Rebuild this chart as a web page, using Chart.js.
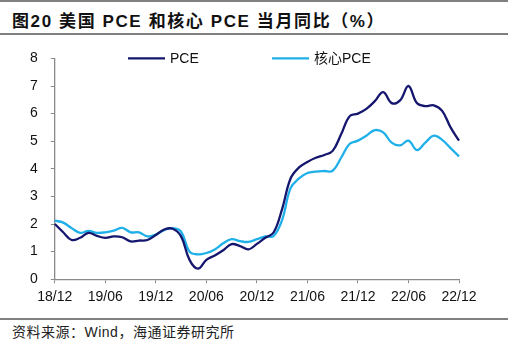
<!DOCTYPE html>
<html>
<head>
<meta charset="utf-8">
<script src="https://cdn.jsdelivr.net/npm/chart.js@4.4.1/dist/chart.umd.min.js"></script>
<style>
  body { margin: 0; background: #fff; width: 525px; height: 346px; position: relative; overflow: hidden;
         font-family: "Liberation Sans", Arial, "Noto Sans CJK SC", sans-serif; }
  .rule { position: absolute; left: 0; width: 508px; background: #808080; }
  #title { position: absolute; left: 12px; top: 7px; font-size: 17px; font-weight: bold; color: #111; white-space: nowrap; letter-spacing: 1.6px; }
  #source { position: absolute; left: 12px; top: 321px; font-size: 14px; color: #222; white-space: nowrap; letter-spacing: 0.5px; }
  #wrap { position: absolute; left: 0; top: 37px; width: 525px; height: 279px; }
</style>
</head>
<body>
<div class="rule" style="top:0px;height:2px"></div>
<div id="title">图20 美国 PCE 和核心 PCE 当月同比（%）</div>
<div class="rule" style="top:33px;height:2px"></div>
<div id="wrap"><canvas id="line_chart"></canvas></div>
<div class="rule" style="top:318px;height:1.5px"></div>
<div id="source">资料来源：Wind，海通证券研究所</div>

<script>
var months = ["18/12",
    "19/01", "19/02", "19/03", "19/04", "19/05", "19/06", "19/07", "19/08", "19/09", "19/10", "19/11", "19/12",
    "20/01", "20/02", "20/03", "20/04", "20/05", "20/06", "20/07", "20/08", "20/09", "20/10", "20/11", "20/12",
    "21/01", "21/02", "21/03", "21/04", "21/05", "21/06", "21/07", "21/08", "21/09", "21/10", "21/11", "21/12",
    "22/01", "22/02", "22/03", "22/04", "22/05", "22/06", "22/07", "22/08", "22/09", "22/10", "22/11", "22/12"];

var pce = [2.0,
    1.7, 1.42, 1.5, 1.68, 1.57, 1.5, 1.55, 1.52, 1.37, 1.4, 1.42, 1.6,
    1.8, 1.83, 1.55, 0.7, 0.38, 0.7, 0.86, 1.05, 1.27, 1.2, 1.08, 1.28,
    1.5, 1.7, 2.55, 3.65, 4.05, 4.25, 4.4, 4.5, 4.65, 5.25, 5.9, 6.0,
    6.17, 6.45, 6.78, 6.38, 6.48, 7.0, 6.38, 6.27, 6.3, 6.1, 5.5, 5.02];

var corePce = [2.12,
    2.05, 1.85, 1.68, 1.75, 1.68, 1.7, 1.76, 1.86, 1.7, 1.7, 1.55, 1.62,
    1.78, 1.85, 1.72, 1.0, 0.9, 0.95, 1.08, 1.3, 1.45, 1.38, 1.35, 1.45,
    1.55, 1.57, 2.15, 3.3, 3.65, 3.85, 3.9, 3.92, 3.93, 4.4, 4.9, 5.02,
    5.2, 5.4, 5.32, 4.95, 4.85, 5.02, 4.68, 4.95, 5.2, 5.05, 4.75, 4.45];

var yTicks = [0, 1, 2, 3, 4, 5, 6, 7, 8];

var seriesNames = ["PCE", "核心PCE"];
var seriesColors = ['#15166e', '#1fb0e9'];

var axisColor = '#8a8a8a';
var fontFamily = '"Liberation Sans", Arial, "Noto Sans CJK SC", sans-serif';

// legend drawn by hand so it sits inside the plot, level with the top tick
var insideLegend = {
    id: 'insideLegend',
    afterDraw: function (chart, args, opts) {
        var ctx = chart.ctx;
        var y = chart.chartArea.top;
        ctx.save();
        ctx.font = '14px ' + fontFamily;
        ctx.textBaseline = 'middle';
        chart.data.datasets.forEach(function (ds, i) {
            var x = opts.starts[i];
            ctx.strokeStyle = ds.borderColor;
            ctx.lineWidth = 2.2;
            ctx.beginPath();
            ctx.moveTo(x, y);
            ctx.lineTo(x + opts.lineLength, y);
            ctx.stroke();
            ctx.fillStyle = '#111';
            ctx.fillText(ds.label, x + opts.lineLength + 5, y + 1);
        });
        ctx.restore();
    }
};

new Chart(document.getElementById("line_chart").getContext("2d"), {
    type: 'line',
    data: {
        labels: months,
        datasets: [{
            label: seriesNames[0],
            data: pce,
            borderColor: seriesColors[0],
            backgroundColor: seriesColors[0],
            borderWidth: 2.3,
            pointRadius: 0,
            tension: 0.4
        }, {
            label: seriesNames[1],
            data: corePce,
            borderColor: seriesColors[1],
            backgroundColor: seriesColors[1],
            borderWidth: 2.3,
            pointRadius: 0,
            tension: 0.4
        }]
    },
    options: {
        responsive: true,
        maintainAspectRatio: false,
        animation: false,
        layout: { padding: { left: 17, right: 66, top: 11, bottom: 4 } },
        plugins: {
            legend: { display: false },
            tooltip: { enabled: false },
            insideLegend: { starts: [128, 272], lineLength: 37 }
        },
        scales: {
            x: {
                offset: false,
                border: { color: axisColor, width: 1.3 },
                grid: {
                    drawOnChartArea: false,
                    tickLength: 4,
                    color: function (c) { return c.index % 6 === 0 ? axisColor : 'rgba(0,0,0,0)'; }
                },
                ticks: {
                    autoSkip: false,
                    maxRotation: 0,
                    padding: 6,
                    color: '#111',
                    font: { family: fontFamily, size: 14 },
                    callback: function (v, i) { return i % 6 === 0 ? months[i] : ''; }
                }
            },
            y: {
                min: yTicks[0],
                max: yTicks[yTicks.length - 1],
                border: { color: axisColor, width: 1.3 },
                grid: { drawOnChartArea: false, tickLength: 4, color: axisColor },
                ticks: {
                    stepSize: 1,
                    padding: 13,
                    color: '#111',
                    font: { family: fontFamily, size: 14 }
                }
            }
        }
    },
    plugins: [insideLegend]
});
</script>
</body>
</html>
